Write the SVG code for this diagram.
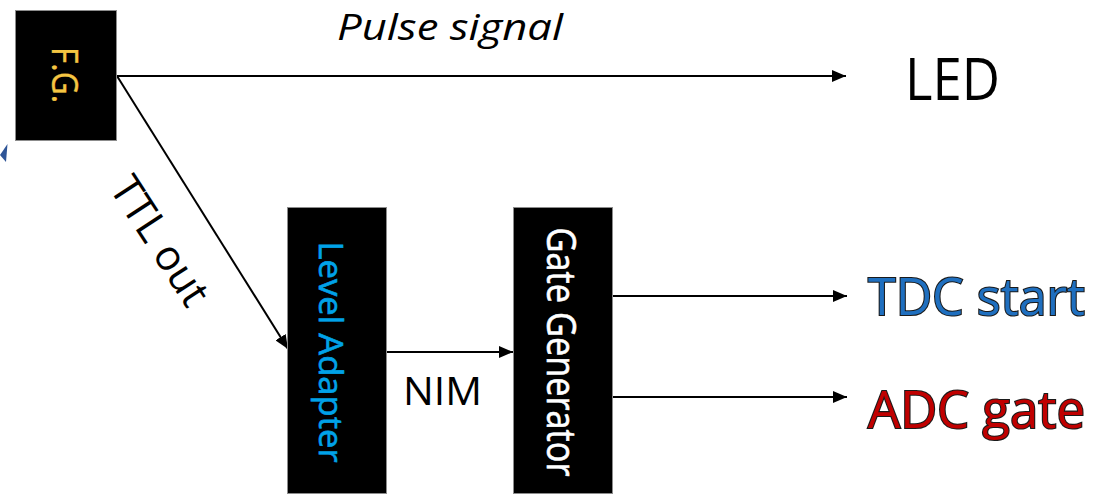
<svg xmlns="http://www.w3.org/2000/svg" width="1095" height="494" viewBox="0 0 1095 494">
  <style>
    .box { fill: #000; stroke: #8c8c8c; stroke-width: 1; }
    .lbl { font-family: "Open Sans", "Liberation Sans", sans-serif; }
    .wire { stroke: #000; stroke-width: 2; fill: none; }
  </style>
  <defs>
    <marker id="arr" viewBox="0 0 14 12" refX="14" refY="6" markerWidth="14" markerHeight="12" markerUnits="userSpaceOnUse" orient="auto">
      <path d="M0,0 L14,6 L0,12 Z" fill="#000"/>
    </marker>
  </defs>
  <rect width="1095" height="494" fill="#fff"/>

  <polygon points="7.5,144 0,155 6,162" fill="#2F5597"/>

  <g id="connectors">
    <line class="wire" x1="117" y1="76" x2="846" y2="76" marker-end="url(#arr)"/>
    <line class="wire" x1="117" y1="76" x2="288" y2="349" marker-end="url(#arr)"/>
    <line class="wire" x1="387" y1="352" x2="513" y2="352" marker-end="url(#arr)"/>
    <line class="wire" x1="613" y1="296" x2="847" y2="296" marker-end="url(#arr)"/>
    <line class="wire" x1="613" y1="397" x2="847" y2="397" marker-end="url(#arr)"/>
  </g>

  <g id="fg">
    <rect class="box" x="15.5" y="10.5" width="101" height="130"/>
    <text class="lbl" transform="translate(52,75) rotate(90)" text-anchor="middle" font-size="36" fill="#F4C542" stroke="#F4C542" stroke-width="0.4" textLength="56" lengthAdjust="spacingAndGlyphs">F.G.</text>
  </g>

  <g id="level-adapter">
    <rect class="box" x="287.5" y="207.5" width="99" height="286"/>
    <text class="lbl" transform="translate(319,352) rotate(90)" text-anchor="middle" font-size="32" fill="#00A2E8" stroke="#00A2E8" stroke-width="0.6" textLength="221" lengthAdjust="spacingAndGlyphs">Level Adapter</text>
  </g>

  <g id="gate-generator">
    <rect class="box" x="513.5" y="207.5" width="99" height="286"/>
    <text class="lbl" transform="translate(547,352) rotate(90)" text-anchor="middle" font-size="40" fill="#fff" stroke="#fff" stroke-width="0.6" textLength="249" lengthAdjust="spacingAndGlyphs">Gate Generator</text>
  </g>

  <g id="labels">
    <text class="lbl" x="337" y="40" font-size="36" font-style="italic" fill="#000" textLength="226" lengthAdjust="spacingAndGlyphs">Pulse signal</text>
    <text class="lbl" transform="translate(108.5,188) rotate(57)" font-size="42" fill="#000" textLength="145" lengthAdjust="spacingAndGlyphs">TTL out</text>
    <text class="lbl" x="403" y="405" font-size="39" fill="#000" textLength="79" lengthAdjust="spacingAndGlyphs">NIM</text>
  </g>

  <g id="led">
    <text class="lbl" x="905" y="100" font-size="59" fill="#000" textLength="95" lengthAdjust="spacingAndGlyphs">LED</text>
  </g>
  <g id="tdc-start">
    <text class="lbl" x="868" y="315" font-size="52" fill="#1F6FBF" stroke="#1a1a1a" stroke-width="2.2" paint-order="stroke" textLength="217" lengthAdjust="spacingAndGlyphs">TDC start</text>
  </g>
  <g id="adc-gate">
    <text class="lbl" x="868" y="428" font-size="51" fill="#C00000" stroke="#1a1a1a" stroke-width="2.2" paint-order="stroke" textLength="217" lengthAdjust="spacingAndGlyphs">ADC gate</text>
  </g>
</svg>
